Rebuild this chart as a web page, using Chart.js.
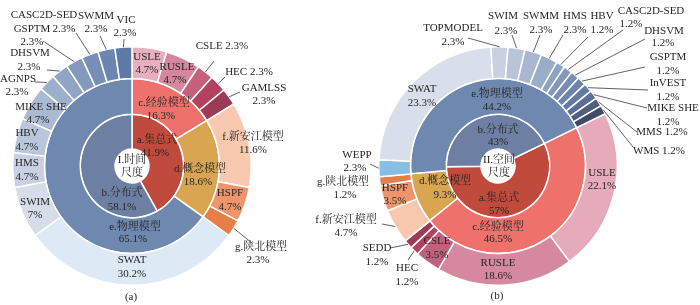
<!DOCTYPE html>
<html><head><meta charset="utf-8">
<script src="https://cdn.jsdelivr.net/npm/chart.js@4/dist/chart.umd.min.js"></script>
<style>
html,body{margin:0;padding:0;background:#fff;}
#wrap{position:relative;width:700px;height:305px;}
canvas{position:absolute;left:0;top:0;}
</style></head><body>
<div id="wrap"><canvas id="ca" width="700" height="305"></canvas><canvas id="cb" width="700" height="305"></canvas></div>
<script>
// ===== Chart (a) data =====
const aInnerLabels = ['a.集总式', 'b.分布式'];
const aInnerValues = [41.9, 58.1];
const aMidLabels = ['c.经验模型', 'd.概念模型', 'e.物理模型'];
const aMidValues = [16.3, 18.6, 65.1];
const aOuterLabels = ['USLE','RUSLE','CSLE','HEC','GAMLSS','f.新安江模型','HSPF','g.陕北模型','SWAT','SWIM','HMS','HBV','MIKE SHE','AGNPS','DHSVM','GSPTM','CASC2D-SED','SWMM','VIC'];
const aOuterValues = [4.7, 4.7, 2.3, 2.3, 2.3, 11.6, 4.7, 2.3, 30.2, 7, 4.7, 4.7, 4.7, 2.3, 2.3, 2.3, 2.3, 2.3, 2.3];
const aCenterText = ['I.时间', '尺度'];
const aCaption = '(a)';

// ===== Chart (b) data =====
const bInnerLabels = ['a.集总式', 'b.分布式'];
const bInnerValues = [57, 43];
const bMidLabels = ['c.经验模型', 'd.概念模型', 'e.物理模型'];
const bMidValues = [46.5, 9.3, 44.2];
const bOuterLabels = ['USLE','RUSLE','CSLE','HEC','SEDD','f.新安江模型','HSPF','g.陕北模型','WEPP','SWAT','TOPMODEL','SWIM','SWMM','HMS','HBV','CASC2D-SED','DHSVM','GSPTM','InVEST','MIKE SHE','MMS','WMS'];
const bOuterValues = [22.1, 18.6, 3.5, 1.2, 1.2, 4.7, 3.5, 1.2, 2.3, 23.3, 2.3, 2.3, 2.3, 2.3, 1.2, 1.2, 1.2, 1.2, 1.2, 1.2, 1.2, 1.2];
const bCenterText = ['II.空间', '尺度'];
const bCaption = '(b)';

// ===== styles =====
const innerColors = {a:'#C04A3B', b:'#6D7FA2'};
const midColors = {c:'#EE716B', d:'#D9A550', e:'#6F88B0'};
const aOuterColors = ['#E8AFBE','#D6879F','#C4617C','#B2425F','#9C3B56','#F8C9AF','#EE956B','#E57E47',
  '#DDEAF6','#D6DCE8','#C8D1E2','#B9C6DC','#AABAD3','#9CAFCC','#90A5C6','#8499BE','#778FB7','#6B85B0','#607AA7'];
const bOuterColors = ['#E6ABBA','#D6889F','#C1617B','#B2425F','#9C3B56','#F8C9AF','#EE956B','#E57E47',
  '#86BEE4','#D9DFEA','#C9D0DF','#B8C4D8','#A9B8D0','#9AADC8','#8EA2C1','#8398BA','#778FB4','#6C85AC','#627BA3','#596F95','#4E5F80','#3F4B66'];

const FONT = '11px "Liberation Serif", "Noto Serif CJK SC", "Noto Sans CJK SC", serif';
const TEXT = '#262626';

// label layout: [ring(0=outer,1=mid,2=inner), index, nameX, nameY, valX|null(inline), valY, leadX, leadY]
const aLayout = [
  [0,0,147,57,147,70],[0,1,177,67,175,80],
  [0,2,222,46,null,0,214,61],[0,3,249,72,null,0,225,77],[0,4,264,88,264,101,240,92],
  [0,5,253,137,253,150],[0,6,230,193,230,207],[0,7,261,247,258,260,252,243],
  [0,8,132,260,132,274],[0,9,35,202,35,215],[0,10,27,163,27,177],[0,11,27,133,27,147],
  [0,12,41,107,38,120],[0,13,18,79,17,92,35,82],[0,14,30,53,29,67,47,70],
  [0,15,32,29,32,42,43,41],[0,16,44,15,64,29,76,33],[0,17,96,16,96,29,100,36],[0,18,126,20,125,33,124,39],
  [1,0,164,103,161,116],[1,1,200,169,198,182],[1,2,135,227,133,239],
  [2,0,157,140,155,153],[2,1,122,193,122,207]
];
const bLayout = [
  [0,0,602,173,602,186],[0,1,498,263,498,276],[0,2,437,241,437,255],
  [0,3,407,268,407,282,408,260],[0,4,377,248,377,262,390,248],
  [0,5,346,220,346,233,382,224],[0,6,395,188,395,201],[0,7,343,182,345,195],
  [0,8,357,155,355,168,370,164],[0,9,422,89,422,103],
  [0,10,453,28,453,42,468,38],[0,11,503,16,506,31,512,35],[0,12,541,16,541,30,540,35],
  [0,13,575,16,575,30,563,35],[0,14,602,16,602,30,588,37],[0,15,651,11,631,24,623,30],
  [0,16,664,31,663,43,645,39],[0,17,668,57,668,71,645,67],[0,18,668,83,668,97,648,90],
  [0,19,673,108,668,122,647,108],[0,20,662,132,null,0,637,132],[0,21,659,151,null,0,633,147],
  [1,0,498,227,498,239],[1,1,445,181,445,195],[1,2,497,94,497,107],
  [2,0,499,198,499,211],[2,1,498,130,498,142]
];

function fmt(v){ return String(v) + '%'; }

function labelPlugin(names, values, layout, center, caption, capXY, centerXY) {
  return {
    id: 'sunLabels',
    afterDraw(chart) {
      const ctx = chart.ctx;
      ctx.save();
      ctx.font = FONT;
      ctx.fillStyle = TEXT;
      ctx.strokeStyle = '#3a3a3a';
      ctx.lineWidth = 0.8;
      ctx.textAlign = 'center';
      ctx.textBaseline = 'middle';
      layout.forEach(s => {
        const [r, i, nx, ny, vx, vy, lx, ly] = s;
        const name = names[r][i], val = fmt(values[r][i]);
        if (lx !== undefined) {
          const arc = chart.getDatasetMeta(r).data[i];
          const p = arc.getProps(['x','y','startAngle','endAngle','outerRadius'], true);
          const m = (p.startAngle + p.endAngle) / 2;
          ctx.beginPath();
          ctx.moveTo(lx, ly);
          ctx.lineTo(p.x + Math.cos(m) * p.outerRadius, p.y + Math.sin(m) * p.outerRadius);
          ctx.stroke();
        }
        if (vx === null) {
          ctx.fillText(name + ' ' + val, nx, ny);
        } else {
          ctx.fillText(name, nx, ny);
          ctx.fillText(val, vx, vy);
        }
      });
      ctx.fillText(center[0], centerXY[0], centerXY[1]);
      ctx.fillText(center[1], centerXY[0], centerXY[1] + 13);
      ctx.fillText(caption, capXY[0], capXY[1]);
      ctx.restore();
    }
  };
}

function makeChart(id, d) {
  const ic = [innerColors.a, innerColors.b];
  const mc = [midColors.c, midColors.d, midColors.e];
  return new Chart(document.getElementById(id), {
    type: 'doughnut',
    data: {
      labels: d.outerLabels,
      datasets: [
        {data: d.outerValues, backgroundColor: d.outerColors, borderColor: '#fff', borderWidth: 1.5, weight: 32},
        {data: d.midValues, backgroundColor: mc, borderColor: '#fff', borderWidth: 1.5, weight: 36},
        {data: d.innerValues, backgroundColor: ic, borderColor: '#fff', borderWidth: 1.5, weight: 35}
      ]
    },
    options: {
      responsive: false, animation: false, events: [],
      cutout: 17, rotation: d.rotation,
      layout: {padding: d.padding},
      plugins: {legend: {display: false}, tooltip: {enabled: false}}
    },
    plugins: [labelPlugin(
      [d.outerLabels, d.midLabels, d.innerLabels],
      [d.outerValues, d.midValues, d.innerValues],
      d.layout, d.center, d.caption, d.capXY, d.centerXY)]
  });
}

makeChart('ca', {
  outerLabels: aOuterLabels, outerValues: aOuterValues, outerColors: aOuterColors,
  midLabels: aMidLabels, midValues: aMidValues, innerLabels: aInnerLabels, innerValues: aInnerValues,
  rotation: 0, padding: {left: 12, right: 448, top: 46, bottom: 19},
  layout: aLayout, center: aCenterText, caption: aCaption, capXY: [131, 297], centerXY: [132, 160]
});
makeChart('cb', {
  outerLabels: bOuterLabels, outerValues: bOuterValues, outerColors: bOuterColors,
  midLabels: bMidLabels, midValues: bMidValues, innerLabels: bInnerLabels, innerValues: bInnerValues,
  rotation: 64, padding: {left: 378, right: 82, top: 46, bottom: 19},
  layout: bLayout, center: bCenterText, caption: bCaption, capXY: [497, 296], centerXY: [499, 160]
});
</script>
</body></html>
